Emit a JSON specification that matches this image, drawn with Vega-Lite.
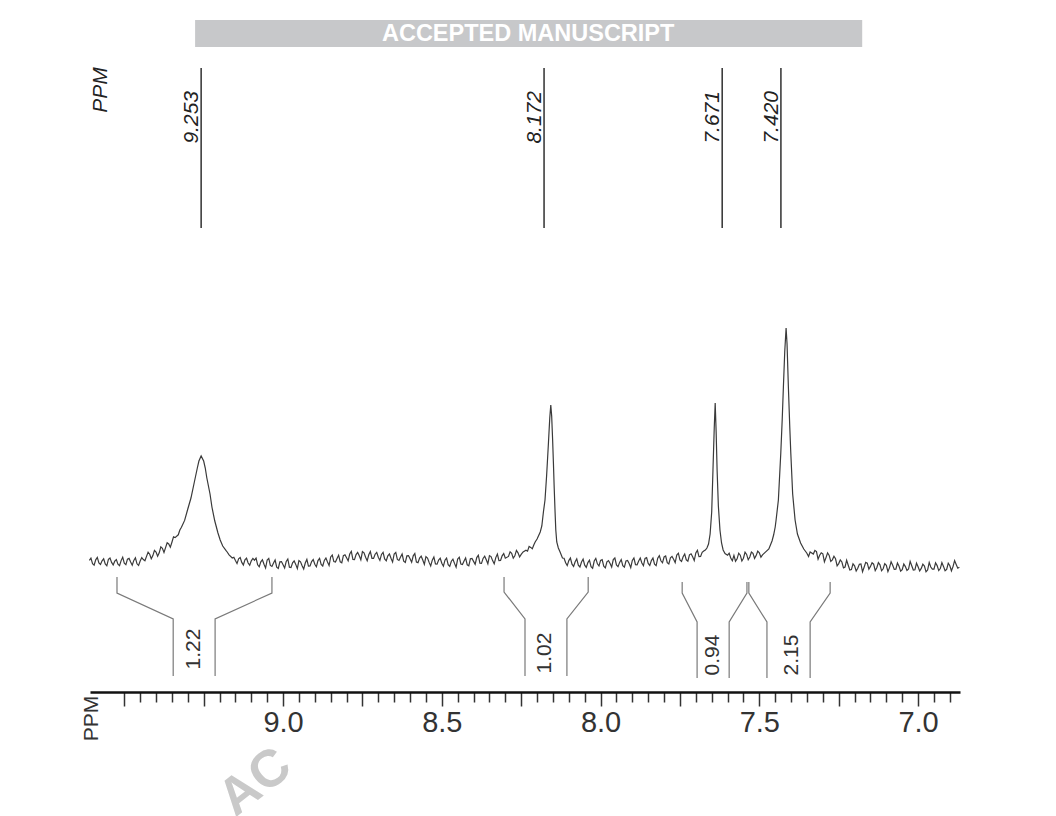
{
  "$schema": "https://vega.github.io/schema/vega-lite/v6.json",
  "width": 870,
  "height": 692,
  "autosize": {"type": "none"},
  "padding": {"left": 90, "right": 96, "top": 0, "bottom": 124},
  "background": "white",
  "config": {"view": {"stroke": null}},
  "layer": [
    {
      "data": {"values": [{"banner": "ACCEPTED MANUSCRIPT"}]},
      "mark": {"type": "rect", "color": "#c7c8ca"},
      "encoding": {
        "x": {"datum": 9.277, "type": "quantitative", "scale": {"domain": [9.608, 6.868], "nice": false, "zero": false}},
        "x2": {"datum": 7.176},
        "y": {"datum": 270, "type": "quantitative", "scale": {"domain": [-66, 280], "nice": false, "zero": false}, "axis": null},
        "y2": {"datum": 256.5}
      }
    },
    {
      "data": {"values": [{"banner": "ACCEPTED MANUSCRIPT"}]},
      "mark": {"type": "text", "color": "white", "font": "Liberation Sans", "fontWeight": "bold", "fontSize": 23.5, "align": "center", "baseline": "middle"},
      "encoding": {
        "x": {"datum": 8.228, "type": "quantitative"},
        "y": {"datum": 263, "type": "quantitative", "axis": null},
        "text": {"field": "banner"}
      }
    },
    {
      "data": {"values": [
        {"ppm":9.61,"v":-0.2},{"ppm":9.605,"v":0.9},{"ppm":9.60,"v":-1.8},{"ppm":9.595,"v":-2.6},{"ppm":9.59,"v":0.1},{"ppm":9.585,"v":1.3},{"ppm":9.58,"v":-1.5},{"ppm":9.575,"v":-2.2},{"ppm":9.57,"v":-0.4},{"ppm":9.565,"v":0.6},{"ppm":9.56,"v":-2.0},{"ppm":9.555,"v":-2.9},{"ppm":9.55,"v":0.3},{"ppm":9.545,"v":1.0},{"ppm":9.54,"v":-1.2},{"ppm":9.535,"v":-2.5},{"ppm":9.53,"v":-0.6},{"ppm":9.525,"v":0.2},{"ppm":9.52,"v":-2.1},{"ppm":9.515,"v":-2.8},{"ppm":9.51,"v":-0.3},{"ppm":9.505,"v":1.4},{"ppm":9.50,"v":-1.6},{"ppm":9.495,"v":-2.3},{"ppm":9.49,"v":0.4},{"ppm":9.485,"v":0.8},{"ppm":9.48,"v":-1.0},{"ppm":9.475,"v":-2.6},{"ppm":9.47,"v":-0.2},{"ppm":9.465,"v":1.1},{"ppm":9.46,"v":-1.9},{"ppm":9.455,"v":-2.7},{"ppm":9.45,"v":-0.5},{"ppm":9.445,"v":1.2},{"ppm":9.44,"v":0.2},
        {"ppm":9.435,"v":-0.4},{"ppm":9.43,"v":1.8},{"ppm":9.425,"v":3.9},{"ppm":9.42,"v":2.9},{"ppm":9.415,"v":0.6},{"ppm":9.41,"v":2.2},{"ppm":9.405,"v":4.8},{"ppm":9.40,"v":4.0},{"ppm":9.395,"v":1.9},{"ppm":9.39,"v":3.6},{"ppm":9.385,"v":6.6},{"ppm":9.38,"v":5.8},{"ppm":9.375,"v":3.8},{"ppm":9.37,"v":6.2},{"ppm":9.365,"v":8.6},{"ppm":9.36,"v":8.0},{"ppm":9.355,"v":6.4},{"ppm":9.35,"v":8.9},{"ppm":9.345,"v":11.6},{"ppm":9.34,"v":11.2},{"ppm":9.33,"v":12.6},{"ppm":9.325,"v":15},{"ppm":9.32,"v":16.4},{"ppm":9.31,"v":19.8},{"ppm":9.30,"v":25.5},{"ppm":9.29,"v":31},{"ppm":9.28,"v":38.5},{"ppm":9.27,"v":46},{"ppm":9.265,"v":49.5},{"ppm":9.258,"v":52},{"ppm":9.25,"v":49.5},{"ppm":9.245,"v":46},{"ppm":9.24,"v":41},{"ppm":9.23,"v":33},{"ppm":9.224,"v":26.5},{"ppm":9.215,"v":19.5},{"ppm":9.205,"v":13.5},{"ppm":9.198,"v":10},{"ppm":9.19,"v":7},{"ppm":9.18,"v":4.8},{"ppm":9.176,"v":4},{"ppm":9.17,"v":2.6},{"ppm":9.16,"v":1.0},{"ppm":9.155,"v":1.4},{"ppm":9.15,"v":-0.3},{"ppm":9.145,"v":-1.8},{"ppm":9.14,"v":0.6},{"ppm":9.135,"v":1.2},{"ppm":9.13,"v":-1.2},{"ppm":9.125,"v":-2.5},{"ppm":9.12,"v":0.1},{"ppm":9.115,"v":0.9},{"ppm":9.11,"v":-1.5},{"ppm":9.105,"v":-2.6},{"ppm":9.10,"v":-0.4},{"ppm":9.095,"v":0.8},
        {"ppm":9.09,"v":-0.1},{"ppm":9.085,"v":0.9},{"ppm":9.08,"v":-2.4},{"ppm":9.075,"v":-3.4},{"ppm":9.07,"v":-0.9},{"ppm":9.065,"v":0.1},{"ppm":9.06,"v":-2.1},{"ppm":9.055,"v":-4.0},{"ppm":9.05,"v":0},{"ppm":9.045,"v":0.8},{"ppm":9.04,"v":-2.7},{"ppm":9.035,"v":-3.2},{"ppm":9.03,"v":-1.5},{"ppm":9.025,"v":0},{"ppm":9.02,"v":-3.6},{"ppm":9.015,"v":-4.2},{"ppm":9.01,"v":-0.9},{"ppm":9.005,"v":-0.8},{"ppm":9.00,"v":-2.4},{"ppm":8.995,"v":-4.0},{"ppm":8.99,"v":-0.7},{"ppm":8.985,"v":0.5},{"ppm":8.98,"v":-3.6},{"ppm":8.975,"v":-3.8},{"ppm":8.97,"v":-1.4},{"ppm":8.965,"v":-0.4},{"ppm":8.96,"v":-2.2},{"ppm":8.955,"v":-4.3},{"ppm":8.95,"v":-0.3},{"ppm":8.945,"v":-0.9},{"ppm":8.94,"v":-2.9},{"ppm":8.935,"v":-4.5},{"ppm":8.93,"v":-1.5},{"ppm":8.925,"v":0.3},{"ppm":8.92,"v":-3.1},{"ppm":8.915,"v":-3.0},{"ppm":8.91,"v":-0.8},{"ppm":8.905,"v":0.2},{"ppm":8.90,"v":-2.1},{"ppm":8.895,"v":-3.4},{"ppm":8.89,"v":-0.3},{"ppm":8.885,"v":0.8},{"ppm":8.88,"v":-2.2},{"ppm":8.875,"v":-3.0},{"ppm":8.87,"v":-0.2},{"ppm":8.865,"v":1.0},{"ppm":8.86,"v":-1.0},{"ppm":8.855,"v":-2.8},{"ppm":8.85,"v":1.5},{"ppm":8.845,"v":2.5},{"ppm":8.84,"v":-0.8},{"ppm":8.835,"v":-1.0},{"ppm":8.83,"v":0.8},{"ppm":8.825,"v":2.4},{"ppm":8.82,"v":-0.9},{"ppm":8.815,"v":-1.4},{"ppm":8.81,"v":2.2},{"ppm":8.805,"v":2.6},{"ppm":8.80,"v":1.1},{"ppm":8.795,"v":-0.4},{"ppm":8.79,"v":3.0},{"ppm":8.785,"v":4.3},{"ppm":8.78,"v":0.3},{"ppm":8.775,"v":0.2},{"ppm":8.77,"v":2.7},{"ppm":8.765,"v":3.8},{"ppm":8.76,"v":2.1},{"ppm":8.755,"v":0.1},{"ppm":8.75,"v":4.2},{"ppm":8.745,"v":3.6},{"ppm":8.74,"v":1.4},{"ppm":8.735,"v":-0.4},{"ppm":8.73,"v":2.6},{"ppm":8.725,"v":4.2},{"ppm":8.72,"v":0.8},{"ppm":8.715,"v":0.8},{"ppm":8.71,"v":2.9},{"ppm":8.705,"v":3.8},{"ppm":8.70,"v":1.4},{"ppm":8.695,"v":-0.2},{"ppm":8.69,"v":2.8},{"ppm":8.685,"v":3.8},{"ppm":8.68,"v":0.5},{"ppm":8.675,"v":-0.4},{"ppm":8.67,"v":2.1},{"ppm":8.665,"v":3.0},{"ppm":8.66,"v":0.9},{"ppm":8.655,"v":-1.0},{"ppm":8.65,"v":3.0},{"ppm":8.645,"v":3.8},{"ppm":8.64,"v":0.3},{"ppm":8.635,"v":-0.2},{"ppm":8.63,"v":1.5},{"ppm":8.625,"v":3.0},{"ppm":8.62,"v":-0.6},{"ppm":8.615,"v":-1.2},{"ppm":8.61,"v":2.1},{"ppm":8.605,"v":2.2},{"ppm":8.60,"v":0.6},{"ppm":8.595,"v":-1.1},{"ppm":8.59,"v":2.1},{"ppm":8.585,"v":3.2},{"ppm":8.58,"v":-1.0},{"ppm":8.575,"v":-1.3},{"ppm":8.57,"v":1.0},{"ppm":8.565,"v":1.9},{"ppm":8.56,"v":0},{"ppm":8.555,"v":-2.2},{"ppm":8.55,"v":1.7},{"ppm":8.545,"v":1.0},{"ppm":8.54,"v":-1.2},{"ppm":8.535,"v":-3.0},{"ppm":8.53,"v":-0.1},{"ppm":8.525,"v":1.5},{"ppm":8.52,"v":-2.0},{"ppm":8.515,"v":-2.1},{"ppm":8.51,"v":0},{"ppm":8.505,"v":0.9},{"ppm":8.50,"v":-1.6},{"ppm":8.495,"v":-3.1},{"ppm":8.49,"v":-0.1},{"ppm":8.485,"v":0.9},{"ppm":8.48,"v":-2.3},{"ppm":8.475,"v":-3.2},{"ppm":8.47,"v":-0.6},{"ppm":8.465,"v":0.4},{"ppm":8.46,"v":-1.7},{"ppm":8.455,"v":-3.6},{"ppm":8.45,"v":0.5},{"ppm":8.445,"v":1.4},{"ppm":8.44,"v":-2.0},{"ppm":8.435,"v":-2.3},{"ppm":8.43,"v":-0.5},{"ppm":8.425,"v":1.0},{"ppm":8.42,"v":-2.4},{"ppm":8.415,"v":-2.9},{"ppm":8.41,"v":0.6},{"ppm":8.405,"v":0.8},{"ppm":8.40,"v":-0.7},{"ppm":8.395,"v":-2.2},{"ppm":8.39,"v":1.2},{"ppm":8.385,"v":2.4},{"ppm":8.38,"v":-1.6},{"ppm":8.375,"v":-1.7},{"ppm":8.37,"v":0.8},{"ppm":8.365,"v":1.9},{"ppm":8.36,"v":0.1},{"ppm":8.355,"v":-1.9},{"ppm":8.35,"v":2.2},{"ppm":8.345,"v":1.7},{"ppm":8.34,"v":-0.3},{"ppm":8.335,"v":-1.9},{"ppm":8.33,"v":1.2},{"ppm":8.325,"v":3.0},{"ppm":8.32,"v":-0.3},{"ppm":8.315,"v":-0.2},{"ppm":8.31,"v":2.1},{"ppm":8.305,"v":3.2},{"ppm":8.30,"v":0.9},
        {"ppm":8.29,"v":1.8},{"ppm":8.285,"v":4.1},{"ppm":8.28,"v":3.3},{"ppm":8.275,"v":0.9},{"ppm":8.27,"v":2.1},{"ppm":8.265,"v":4.8},{"ppm":8.26,"v":3.6},{"ppm":8.255,"v":1.5},{"ppm":8.25,"v":2.8},{"ppm":8.244,"v":4.0},{"ppm":8.235,"v":4.9},{"ppm":8.23,"v":4.4},{"ppm":8.225,"v":6.8},{"ppm":8.22,"v":6.3},{"ppm":8.215,"v":5.6},{"ppm":8.21,"v":7.6},{"ppm":8.206,"v":9},{"ppm":8.20,"v":10.5},{"ppm":8.19,"v":14},{"ppm":8.185,"v":17},{"ppm":8.18,"v":24},{"ppm":8.175,"v":30},{"ppm":8.17,"v":42},{"ppm":8.1675,"v":49},{"ppm":8.164,"v":59},{"ppm":8.160,"v":71},{"ppm":8.1568,"v":77.5},{"ppm":8.154,"v":72},{"ppm":8.151,"v":60},{"ppm":8.1486,"v":49},{"ppm":8.146,"v":36},{"ppm":8.1433,"v":24},{"ppm":8.141,"v":15},{"ppm":8.138,"v":9},{"ppm":8.133,"v":6},{"ppm":8.1275,"v":4},{"ppm":8.12,"v":1.0},{"ppm":8.115,"v":0.9},{"ppm":8.11,"v":-1.4},{"ppm":8.105,"v":-2.8},{"ppm":8.10,"v":-0.3},{"ppm":8.095,"v":1.0},{"ppm":8.09,"v":-2.1},{"ppm":8.085,"v":-3.2},{"ppm":8.08,"v":-0.9},{"ppm":8.075,"v":0.6},{"ppm":8.07,"v":-2.6},{"ppm":8.065,"v":-3.5},{"ppm":8.06,"v":-1.0},
        {"ppm":8.055,"v":0.4},{"ppm":8.05,"v":-2.6},{"ppm":8.045,"v":-3.7},{"ppm":8.04,"v":-1.3},{"ppm":8.035,"v":-0.1},{"ppm":8.03,"v":-3.3},{"ppm":8.025,"v":-4.1},{"ppm":8.02,"v":-0.5},{"ppm":8.015,"v":0.8},{"ppm":8.01,"v":-1.9},{"ppm":8.005,"v":-3.0},{"ppm":8.00,"v":-0.2},{"ppm":7.995,"v":0.2},{"ppm":7.99,"v":-3.1},{"ppm":7.985,"v":-3.9},{"ppm":7.98,"v":-0.9},{"ppm":7.975,"v":-0.3},{"ppm":7.97,"v":-1.7},{"ppm":7.965,"v":-3.5},{"ppm":7.96,"v":0.2},{"ppm":7.955,"v":1.0},{"ppm":7.95,"v":-2.5},{"ppm":7.945,"v":-3.3},{"ppm":7.94,"v":-1.2},{"ppm":7.935,"v":0.2},{"ppm":7.93,"v":-2.8},{"ppm":7.925,"v":-3.6},{"ppm":7.92,"v":-0.5},{"ppm":7.915,"v":-0.2},{"ppm":7.91,"v":-1.8},{"ppm":7.905,"v":-3.8},{"ppm":7.90,"v":-0.2},{"ppm":7.895,"v":1.0},{"ppm":7.89,"v":-2.3},{"ppm":7.885,"v":-2.4},{"ppm":7.88,"v":-0.5},{"ppm":7.875,"v":1.0},{"ppm":7.87,"v":-1.5},{"ppm":7.865,"v":-2.8},{"ppm":7.86,"v":0.8},{"ppm":7.855,"v":1.2},{"ppm":7.85,"v":-1.7},{"ppm":7.845,"v":-2.7},{"ppm":7.84,"v":-0.3},{"ppm":7.835,"v":1.0},{"ppm":7.83,"v":-2.1},{"ppm":7.825,"v":-2.8},{"ppm":7.82,"v":0.9},{"ppm":7.815,"v":2.2},{"ppm":7.81,"v":-0.4},{"ppm":7.805,"v":-1.4},{"ppm":7.80,"v":1.5},{"ppm":7.795,"v":2.0},{"ppm":7.79,"v":-1.3},{"ppm":7.785,"v":-2.0},{"ppm":7.78,"v":1.1},{"ppm":7.775,"v":1.8},{"ppm":7.77,"v":0.4},{"ppm":7.765,"v":-1.3},{"ppm":7.76,"v":2.5},{"ppm":7.755,"v":3.4},{"ppm":7.75,"v":0},{"ppm":7.745,"v":-0.7},{"ppm":7.74,"v":1.6},{"ppm":7.735,"v":3.0},{"ppm":7.73,"v":0.1},{"ppm":7.725,"v":-0.6},{"ppm":7.72,"v":2.6},{"ppm":7.715,"v":3.1},{"ppm":7.71,"v":1.6},{"ppm":7.705,"v":-0.3},{"ppm":7.70,"v":3.5},{"ppm":7.695,"v":4.8},{"ppm":7.69,"v":1.7},{"ppm":7.685,"v":1.8},{"ppm":7.68,"v":3.8},{"ppm":7.675,"v":4.5},{"ppm":7.67,"v":5.0},
        {"ppm":7.665,"v":6.0},{"ppm":7.66,"v":8.0},{"ppm":7.655,"v":13},{"ppm":7.650,"v":24},{"ppm":7.646,"v":45},{"ppm":7.642,"v":66},{"ppm":7.639,"v":78.5},{"ppm":7.636,"v":64},{"ppm":7.633,"v":45},{"ppm":7.629,"v":27},{"ppm":7.624,"v":15},{"ppm":7.619,"v":8.5},{"ppm":7.614,"v":5},{"ppm":7.608,"v":3.2},{"ppm":7.60,"v":2.4},{"ppm":7.595,"v":3.4},{"ppm":7.59,"v":1.0},{"ppm":7.585,"v":-0.4},{"ppm":7.58,"v":2.3},
        {"ppm":7.575,"v":-0.6},{"ppm":7.57,"v":0.6},{"ppm":7.565,"v":3.4},{"ppm":7.56,"v":2.4},{"ppm":7.555,"v":-0.5},{"ppm":7.55,"v":0.9},{"ppm":7.545,"v":3.9},{"ppm":7.54,"v":2.8},{"ppm":7.535,"v":0.1},{"ppm":7.53,"v":1.5},{"ppm":7.525,"v":4.0},{"ppm":7.52,"v":3.3},{"ppm":7.515,"v":0.8},{"ppm":7.51,"v":2.2},{"ppm":7.505,"v":4.4},{"ppm":7.50,"v":3.6},{"ppm":7.495,"v":1.4},{"ppm":7.49,"v":2.6},{"ppm":7.4817,"v":3.8},{"ppm":7.47,"v":5.5},{"ppm":7.46,"v":9.5},{"ppm":7.455,"v":12.5},{"ppm":7.45,"v":16.5},{"ppm":7.4472,"v":20},{"ppm":7.44,"v":30},{"ppm":7.4324,"v":53.5},{"ppm":7.428,"v":70},{"ppm":7.4242,"v":86.5},{"ppm":7.42,"v":104},{"ppm":7.4157,"v":116},{"ppm":7.4127,"v":108},{"ppm":7.4085,"v":86.5},{"ppm":7.404,"v":66},{"ppm":7.4009,"v":53.5},{"ppm":7.395,"v":33},{"ppm":7.3874,"v":20},{"ppm":7.38,"v":13},{"ppm":7.37,"v":8.5},{"ppm":7.36,"v":5.5},{"ppm":7.3507,"v":3.5},{"ppm":7.345,"v":1.8},{"ppm":7.34,"v":4.0},
        {"ppm":7.33,"v":3.0},{"ppm":7.325,"v":4.8},{"ppm":7.32,"v":4.2},{"ppm":7.315,"v":0.4},{"ppm":7.31,"v":2.4},{"ppm":7.305,"v":3.6},{"ppm":7.30,"v":3.1},{"ppm":7.295,"v":-0.9},{"ppm":7.29,"v":1.2},{"ppm":7.285,"v":3.6},{"ppm":7.28,"v":2.3},{"ppm":7.275,"v":-0.7},{"ppm":7.27,"v":0.1},{"ppm":7.265,"v":1.9},{"ppm":7.26,"v":0.6},{"ppm":7.255,"v":-2.9},{"ppm":7.25,"v":-1.8},{"ppm":7.245,"v":0},{"ppm":7.24,"v":-1.0},{"ppm":7.235,"v":-3.9},{"ppm":7.23,"v":-3.5},{"ppm":7.225,"v":-0.1},{"ppm":7.22,"v":-2.6},{"ppm":7.215,"v":-5.0},{"ppm":7.21,"v":-4.8},{"ppm":7.205,"v":-1.9},{"ppm":7.20,"v":-2.9},{"ppm":7.195,"v":-5.5},{"ppm":7.19,"v":-4.1},{"ppm":7.185,"v":-2.1},{"ppm":7.18,"v":-2.0},{"ppm":7.175,"v":-5.9},{"ppm":7.17,"v":-3.6},{"ppm":7.165,"v":-1.2},{"ppm":7.16,"v":-1.6},{"ppm":7.155,"v":-4.6},{"ppm":7.15,"v":-3.2},{"ppm":7.145,"v":-1.4},{"ppm":7.14,"v":-2.1},{"ppm":7.135,"v":-5.3},{"ppm":7.13,"v":-3.9},{"ppm":7.125,"v":-1.3},{"ppm":7.12,"v":-2.4},{"ppm":7.115,"v":-5.4},{"ppm":7.11,"v":-4.4},{"ppm":7.105,"v":-1.8},{"ppm":7.10,"v":-2.7},{"ppm":7.095,"v":-5.8},{"ppm":7.09,"v":-3.8},{"ppm":7.085,"v":-0.9},{"ppm":7.08,"v":-2.6},{"ppm":7.075,"v":-4.7},{"ppm":7.07,"v":-4.6},{"ppm":7.065,"v":-1.5},{"ppm":7.06,"v":-3.1},{"ppm":7.055,"v":-5.6},{"ppm":7.05,"v":-4.8},{"ppm":7.045,"v":-2.0},{"ppm":7.04,"v":-3.3},{"ppm":7.035,"v":-5.2},{"ppm":7.03,"v":-4.5},{"ppm":7.025,"v":-0.7},{"ppm":7.02,"v":-2.9},{"ppm":7.015,"v":-5.0},{"ppm":7.01,"v":-4.9},{"ppm":7.005,"v":-1.6},{"ppm":7.00,"v":-3.4},{"ppm":6.995,"v":-5.5},{"ppm":6.99,"v":-4.2},{"ppm":6.985,"v":-2.1},{"ppm":6.98,"v":-3.0},{"ppm":6.975,"v":-5.9},{"ppm":6.97,"v":-5.0},{"ppm":6.965,"v":-1.2},{"ppm":6.96,"v":-3.5},{"ppm":6.955,"v":-4.6},{"ppm":6.95,"v":-4.6},{"ppm":6.945,"v":-1.4},{"ppm":6.94,"v":-2.8},{"ppm":6.935,"v":-5.3},{"ppm":6.93,"v":-4.3},{"ppm":6.925,"v":-1.3},{"ppm":6.92,"v":-3.2},{"ppm":6.915,"v":-5.4},{"ppm":6.91,"v":-4.7},{"ppm":6.905,"v":-1.6},{"ppm":6.90,"v":-2.9},{"ppm":6.895,"v":-5.4},{"ppm":6.89,"v":-3.3},{"ppm":6.885,"v":-0.3},{"ppm":6.88,"v":-2.2},{"ppm":6.875,"v":-4.1},{"ppm":6.87,"v":-3.6}
      ]},
      "mark": {"type": "line", "color": "#3a3a3a", "strokeWidth": 1.2, "interpolate": "linear"},
      "encoding": {
        "x": {
          "field": "ppm", "type": "quantitative",
          "scale": {"domain": [9.608, 6.868], "nice": false, "zero": false},
          "axis": {
            "values": [9.5,9.45,9.4,9.35,9.3,9.25,9.2,9.15,9.1,9.05,9.0,8.95,8.9,8.85,8.8,8.75,8.7,8.65,8.6,8.55,8.5,8.45,8.4,8.35,8.3,8.25,8.2,8.15,8.1,8.05,8.0,7.95,7.9,7.85,7.8,7.75,7.7,7.65,7.6,7.55,7.5,7.45,7.4,7.35,7.3,7.25,7.2,7.15,7.1,7.05,7.0,6.95,6.9],
            "tickCount": 200,
            "labelExpr": "(datum.value < 9.3 && abs(datum.value*2 - round(datum.value*2)) < 0.01) ? format(datum.value, '.1f') : ''",
            "domainColor": "#111", "domainWidth": 2.5,
            "tickColor": "#333", "tickWidth": 1.5,
            "tickSize": {"condition": {"test": "abs(datum.value*4 - round(datum.value*4)) < 0.01", "value": 14}, "value": 10},
            "labelFont": "Liberation Sans", "labelFontSize": 29, "labelColor": "#333", "labelPadding": 2,
            "labelOverlap": false, "labelFlush": false, "labelBound": false,
            "grid": false,
            "title": "PPM", "titleAngle": 270, "titleX": 1, "titleY": 26,
            "titleFont": "Liberation Sans", "titleFontSize": 21, "titleFontWeight": "normal", "titleColor": "#333",
            "titleAlign": "center", "titleBaseline": "middle"
          }
        },
        "y": {"field": "v", "type": "quantitative", "scale": {"domain": [-66, 280], "nice": false, "zero": false}, "axis": null}
      }
    },
    {
      "data": {"values": [
        {"seg":"aL","ord":1,"ppm":9.523,"v":-8.5},{"seg":"aL","ord":2,"ppm":9.523,"v":-16.5},{"seg":"aL","ord":3,"ppm":9.346,"v":-29.5},{"seg":"aL","ord":4,"ppm":9.346,"v":-58},
        {"seg":"aR","ord":1,"ppm":9.035,"v":-8.5},{"seg":"aR","ord":2,"ppm":9.035,"v":-16.5},{"seg":"aR","ord":3,"ppm":9.214,"v":-29.5},{"seg":"aR","ord":4,"ppm":9.214,"v":-58},
        {"seg":"bL","ord":1,"ppm":8.304,"v":-8.5},{"seg":"bL","ord":2,"ppm":8.304,"v":-16},{"seg":"bL","ord":3,"ppm":8.238,"v":-29.5},{"seg":"bL","ord":4,"ppm":8.238,"v":-58},
        {"seg":"bR","ord":1,"ppm":8.039,"v":-8.5},{"seg":"bR","ord":2,"ppm":8.039,"v":-16},{"seg":"bR","ord":3,"ppm":8.106,"v":-29.5},{"seg":"bR","ord":4,"ppm":8.106,"v":-58},
        {"seg":"cL","ord":1,"ppm":7.743,"v":-11},{"seg":"cL","ord":2,"ppm":7.743,"v":-16.5},{"seg":"cL","ord":3,"ppm":7.696,"v":-31},{"seg":"cL","ord":4,"ppm":7.696,"v":-59},
        {"seg":"cR","ord":1,"ppm":7.539,"v":-11},{"seg":"cR","ord":2,"ppm":7.539,"v":-16.5},{"seg":"cR","ord":3,"ppm":7.595,"v":-31},{"seg":"cR","ord":4,"ppm":7.595,"v":-59},
        {"seg":"dL","ord":1,"ppm":7.533,"v":-11},{"seg":"dL","ord":2,"ppm":7.533,"v":-16.5},{"seg":"dL","ord":3,"ppm":7.476,"v":-31},{"seg":"dL","ord":4,"ppm":7.476,"v":-59},
        {"seg":"dR","ord":1,"ppm":7.277,"v":-11},{"seg":"dR","ord":2,"ppm":7.277,"v":-16.5},{"seg":"dR","ord":3,"ppm":7.340,"v":-31},{"seg":"dR","ord":4,"ppm":7.340,"v":-59}
      ]},
      "mark": {"type": "line", "color": "#7a7a7a", "strokeWidth": 1.2},
      "encoding": {
        "x": {"field": "ppm", "type": "quantitative"},
        "y": {"field": "v", "type": "quantitative", "axis": null},
        "detail": {"field": "seg"},
        "order": {"field": "ord"}
      }
    },
    {
      "data": {"values": [
        {"txt":"1.22","ppm":9.280,"v":-44.5},
        {"txt":"1.02","ppm":8.175,"v":-46.5},
        {"txt":"0.94","ppm":7.646,"v":-47.5},
        {"txt":"2.15","ppm":7.397,"v":-47.5}
      ]},
      "mark": {"type": "text", "angle": 270, "align": "center", "baseline": "middle", "font": "Liberation Sans", "fontSize": 21, "color": "#333"},
      "encoding": {
        "x": {"field": "ppm", "type": "quantitative"},
        "y": {"field": "v", "type": "quantitative", "axis": null},
        "text": {"field": "txt"}
      }
    },
    {
      "data": {"values": [
        {"txt":"9.253","ppm":9.258},
        {"txt":"8.172","ppm":8.178},
        {"txt":"7.671","ppm":7.617},
        {"txt":"7.420","ppm":7.432}
      ]},
      "layer": [
        {
          "mark": {"type": "rule", "color": "#222", "strokeWidth": 1.4},
          "encoding": {
            "x": {"field": "ppm", "type": "quantitative"},
            "y": {"datum": 246, "type": "quantitative", "axis": null},
            "y2": {"datum": 166}
          }
        },
        {
          "mark": {"type": "text", "angle": 270, "align": "right", "baseline": "alphabetic", "dy": -3, "font": "Liberation Sans", "fontStyle": "italic", "fontSize": 21, "color": "#222"},
          "encoding": {
            "x": {"field": "ppm", "type": "quantitative"},
            "y": {"datum": 234.5, "type": "quantitative", "axis": null},
            "text": {"field": "txt"}
          }
        }
      ]
    },
    {
      "data": {"values": [{"txt": "PPM"}]},
      "mark": {"type": "text", "angle": 270, "align": "center", "baseline": "middle", "font": "Liberation Sans", "fontStyle": "italic", "fontSize": 21, "color": "#222"},
      "encoding": {
        "x": {"datum": 9.573, "type": "quantitative"},
        "y": {"datum": 235, "type": "quantitative", "axis": null},
        "text": {"field": "txt"}
      }
    },
    {
      "data": {"values": [{"txt": "AC"}]},
      "mark": {"type": "text", "angle": -38, "align": "center", "baseline": "middle", "font": "Liberation Sans", "fontWeight": "bold", "fontSize": 52, "color": "#c9c9c9"},
      "encoding": {
        "x": {"datum": 9.088, "type": "quantitative"},
        "y": {"datum": -111, "type": "quantitative", "axis": null},
        "text": {"field": "txt"}
      }
    }
  ]
}
